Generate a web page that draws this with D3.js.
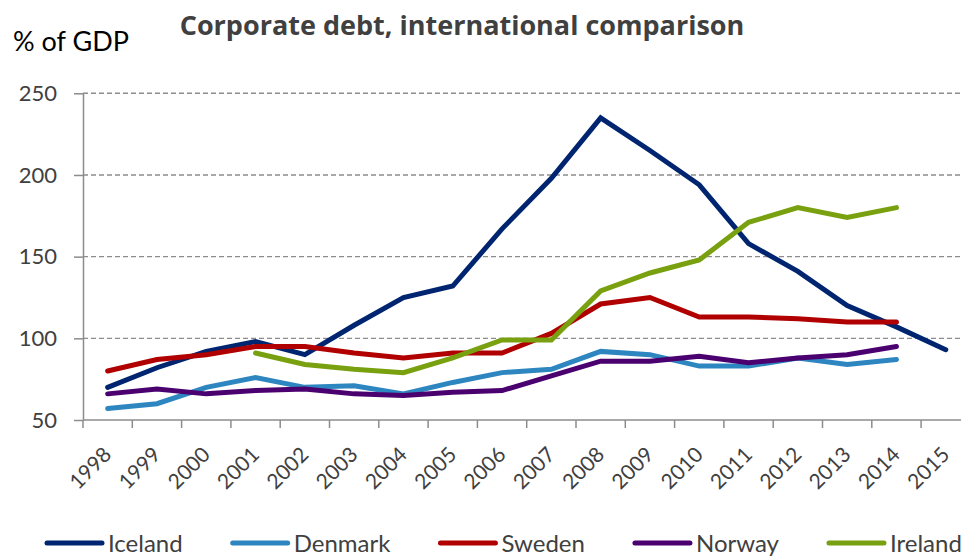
<!DOCTYPE html>
<html>
<head>
<meta charset="utf-8">
<script src="https://cdn.jsdelivr.net/npm/d3@7"></script>
<style>
    body { margin: 0; background: #fff; }
    svg { display: block; font-family: Lato, "Open Sans", sans-serif; }
</style>
</head>
<body>
<div id="chart"></div>
<script>
// Data (% of GDP)
var years = ['1998', '1999', '2000', '2001', '2002', '2003', '2004', '2005', '2006',
    '2007', '2008', '2009', '2010', '2011', '2012', '2013', '2014', '2015'];
var iceland = [70, 82, 92, 98, 90, 108, 125, 132, 167, 198, 235, 215, 194, 158, 141, 120, 107, 93];
var denmark = [57, 60, 70, 76, 70, 71, 66, 73, 79, 81, 92, 90, 83, 83, 88, 84, 87, null];
var sweden = [80, 87, 90, 95, 95, 91, 88, 91, 91, 103, 121, 125, 113, 113, 112, 110, 110, null];
var norway = [66, 69, 66, 68, 69, 66, 65, 67, 68, 77, 86, 86, 89, 85, 88, 90, 95, null];
var ireland = [null, null, null, 91, 84, 81, 79, 88, 99, 99, 129, 140, 148, 171, 180, 174, 180, null];
var yTicks = [50, 100, 150, 200, 250];

var series = [
    {name: 'Iceland', values: iceland, color: '#002570'},
    {name: 'Denmark', values: denmark, color: '#2e86c1'},
    {name: 'Sweden', values: sweden, color: '#b00000'},
    {name: 'Norway', values: norway, color: '#4b0070'},
    {name: 'Ireland', values: ireland, color: '#78a00f'}
];

var width = 961,
    height = 556,
    plotLeft = 83,
    plotTop = 93.3,
    plotBottom = 420,
    band = 49.3;

var svg = d3.select('#chart').append('svg')
    .attr('width', width)
    .attr('height', height);

var x = d3.scaleBand()
    .domain(years)
    .range([plotLeft, plotLeft + band * years.length]);
var y = d3.scaleLinear()
    .domain([50, 250])
    .range([plotBottom, plotTop]);

// title and unit
svg.append('text')
    .attr('x', 462)
    .attr('y', 35)
    .attr('text-anchor', 'middle')
    .style('font-family', '"Open Sans", sans-serif')
    .style('font-size', '27px')
    .style('font-weight', 'bold')
    .style('fill', '#404040')
    .text('Corporate debt, international comparison');
svg.append('text')
    .attr('x', 13)
    .attr('y', 51)
    .style('font-size', '27px')
    .style('fill', '#000')
    .text('% of GDP');

// dashed gridlines
svg.append('g')
    .selectAll('line')
    .data(yTicks.slice(1))
    .enter().append('line')
    .attr('x1', plotLeft)
    .attr('x2', width)
    .attr('y1', d => y(d))
    .attr('y2', d => y(d))
    .style('stroke', '#8c8c8c')
    .style('stroke-width', 1.4)
    .style('stroke-dasharray', '5,3');

// y axis
var yAxis = svg.append('g')
    .attr('transform', 'translate(' + plotLeft + ',0)')
    .call(d3.axisLeft(y).tickValues(yTicks).tickSize(9).tickSizeOuter(0).tickPadding(17));
yAxis.selectAll('path, line').style('stroke', '#8c8c8c').style('stroke-width', 1.5);
yAxis.selectAll('text')
    .style('font-size', '22px')
    .style('font-family', 'Lato, sans-serif')
    .style('fill', '#404040');

// x axis: ticks on band edges, labels rotated in the middle
var xg = svg.append('g');
xg.append('line')
    .attr('x1', plotLeft).attr('x2', width)
    .attr('y1', plotBottom).attr('y2', plotBottom)
    .style('stroke', '#8c8c8c').style('stroke-width', 1.5);
xg.selectAll('.tick')
    .data(years)
    .enter().append('line')
    .attr('class', 'tick')
    .attr('x1', d => x(d)).attr('x2', d => x(d))
    .attr('y1', plotBottom).attr('y2', plotBottom + 8)
    .style('stroke', '#8c8c8c').style('stroke-width', 1.5);
xg.selectAll('text')
    .data(years)
    .enter().append('text')
    .attr('text-anchor', 'end')
    .attr('transform', d => 'translate(' + (x(d) + x.bandwidth() / 2 + 5) + ',' + 456 + ') rotate(-45)')
    .style('font-size', '21px')
    .style('fill', '#404040')
    .text(d => d);

// lines
var line = d3.line()
    .defined(d => d != null)
    .x((d, i) => x(years[i]) + x.bandwidth() / 2)
    .y(d => y(d));

svg.append('g')
    .selectAll('path')
    .data(series)
    .enter().append('path')
    .attr('d', d => line(d.values))
    .style('fill', 'none')
    .style('stroke', d => d.color)
    .style('stroke-width', 5)
    .style('stroke-linejoin', 'miter')
    .style('stroke-linecap', 'round');

// legend
var lx = 47;
var legend = svg.append('g');
series.forEach(function (s) {
    var g = legend.append('g');
    g.append('line')
        .attr('x1', lx).attr('x2', lx + 55)
        .attr('y1', 543).attr('y2', 543)
        .style('stroke', s.color)
        .style('stroke-width', 5)
        .style('stroke-linecap', 'round');
    var t = g.append('text')
        .attr('x', lx + 61)
        .attr('y', 552)
        .style('font-size', '24px')
        .style('fill', '#404040')
        .text(s.name);
    lx += 61 + t.node().getComputedTextLength() + 50;
});
</script>
</body>
</html>
